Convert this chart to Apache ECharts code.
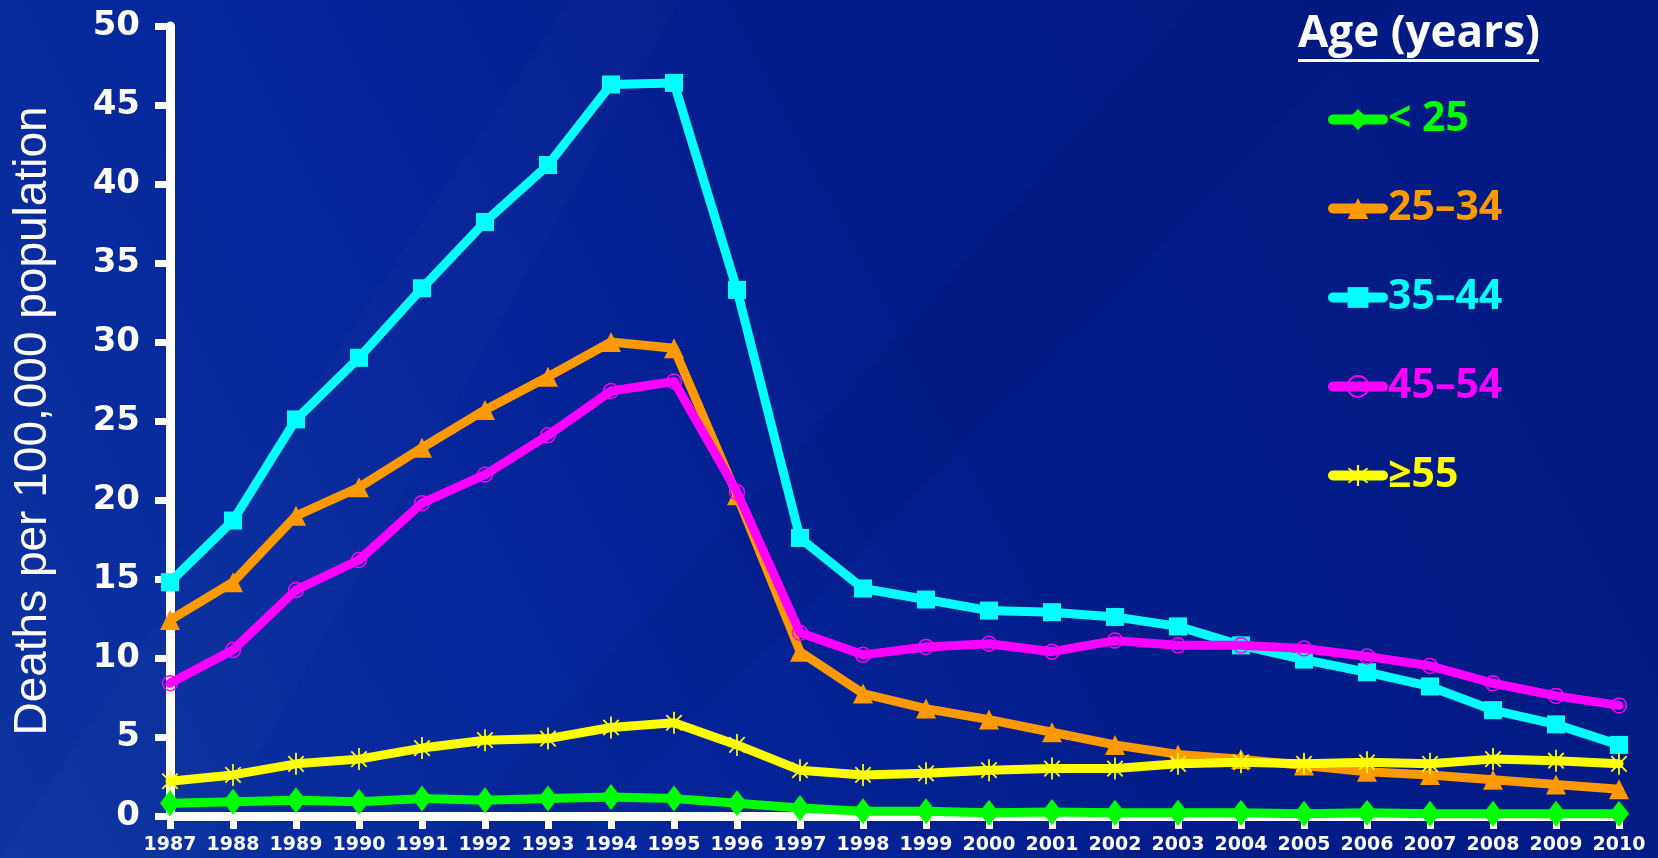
<!DOCTYPE html>
<html>
<head>
<meta charset="utf-8">
<title>Deaths per 100,000 population by age</title>
<script src="https://cdn.jsdelivr.net/npm/echarts@6/dist/echarts.min.js"></script>
<style>
  html, body { margin: 0; padding: 0; background: #021c86; }
  #chart { width: 1658px; height: 858px; }
</style>
</head>
<body>
<div id="chart"></div>
<script>
// Years on the category axis
const years = ['1987','1988','1989','1990','1991','1992','1993','1994','1995','1996','1997','1998',
               '1999','2000','2001','2002','2003','2004','2005','2006','2007','2008','2009','2010'];

// Deaths per 100,000 population, by age group
const ageUnder25 = [0.8, 0.9, 1.0, 0.9, 1.1, 1.0, 1.1, 1.2, 1.1, 0.8, 0.5, 0.3,
                    0.3, 0.2, 0.25, 0.2, 0.2, 0.2, 0.15, 0.2, 0.15, 0.15, 0.15, 0.15];
const age25to34  = [12.4, 14.8, 19.0, 20.8, 23.3, 25.7, 27.8, 30.0, 29.6, 20.3, 10.4, 7.75,
                    6.8, 6.1, 5.3, 4.5, 3.9, 3.6, 3.2, 2.8, 2.6, 2.3, 2.0, 1.7];
const age35to44  = [14.8, 18.7, 25.1, 29.0, 33.4, 37.6, 41.2, 46.3, 46.4, 33.3, 17.6, 14.4,
                    13.7, 13.0, 12.9, 12.6, 12.0, 10.8, 9.9, 9.1, 8.2, 6.7, 5.8, 4.5];
const age45to54  = [8.4, 10.5, 14.3, 16.2, 19.8, 21.6, 24.1, 26.9, 27.5, 20.5, 11.6, 10.2,
                    10.7, 10.9, 10.4, 11.1, 10.8, 10.8, 10.6, 10.1, 9.5, 8.4, 7.6, 7.0];
const age55plus  = [2.2, 2.6, 3.3, 3.6, 4.3, 4.8, 4.9, 5.6, 5.9, 4.5, 2.9, 2.6,
                    2.7, 2.9, 3.0, 3.0, 3.3, 3.4, 3.3, 3.4, 3.3, 3.6, 3.5, 3.3];

// Legend / series names
const groupNames = ['< 25', '25\u201334', '35\u201344', '45\u201354', '\u226555'];
const groupColors = ['#00ff00', '#ff9900', '#00ffff', '#ff00ff', '#ffff00'];

// Six-spoke asterisk marker
const asterisk = 'path://M-0.8,-10 L0.8,-10 L0.8,10 L-0.8,10 Z ' +
  'M-6.43,-7.57 L7.57,6.43 L6.43,7.57 L-7.57,-6.43 Z ' +
  'M6.43,-7.57 L-7.57,6.43 L-6.43,7.57 L7.57,-6.43 Z';

function makeLine(name, data, color, symbol, symbolSize, itemExtra, z) {
  return {
    name: name,
    type: 'line',
    data: data,
    z: z,
    symbol: symbol,
    symbolSize: symbolSize,
    symbolKeepAspect: true,
    showAllSymbol: true,
    lineStyle: { color: color, width: 9, cap: 'round', join: 'round' },
    itemStyle: Object.assign({ color: color }, itemExtra || {}),
    emphasis: { disabled: true },
    animation: false
  };
}

const chart = echarts.init(document.getElementById('chart'), null, { renderer: 'canvas' });

const axisWhite = '#ffffff';

const option = {
  backgroundColor: {
    type: 'linear', x: 0, y: 1, x2: 1, y2: 0,
    colorStops: [
      { offset: 0, color: '#0c33a0' },
      { offset: 0.35, color: '#05249a' },
      { offset: 0.6, color: '#021c88' },
      { offset: 1, color: '#021a82' }
    ]
  },
  graphic: [
    // faint diagonal streaks in the backdrop
    { type: 'polygon', silent: true, z: -10,
      shape: { points: [[0, 858], [200, 858], [680, 0], [570, 0]] },
      style: { fill: 'rgba(255,255,255,0.015)' } },
    { type: 'polygon', silent: true, z: -10,
      shape: { points: [[430, 858], [560, 858], [1400, 0], [1200, 0]] },
      style: { fill: 'rgba(0,0,40,0.05)' } },
    // legend heading
    { type: 'text', left: 1298, top: 12, silent: true,
      style: { text: 'Age (years)', fill: '#ffffff', font: 'bold 44px "Open Sans", "DejaVu Sans", sans-serif' } },
    { type: 'rect', left: 1298, top: 59, silent: true,
      shape: { width: 241, height: 3 }, style: { fill: '#ffffff' } }
  ],
  grid: { left: 170, right: 39, top: 26, bottom: 42, containLabel: false },
  legend: {
    orient: 'vertical',
    left: 1323,
    top: 94,
    itemWidth: 50,
    itemHeight: 26,
    itemGap: 48,
    selectedMode: false,
    lineStyle: { width: 10, cap: 'round' },
    data: groupNames.map((n, i) => ({ name: n, textStyle: { color: groupColors[i] } })),
    textStyle: {
      fontFamily: '"Open Sans", "DejaVu Sans", sans-serif',
      fontWeight: 'bold',
      fontSize: 41,
      lineHeight: 41
    }
  },
  xAxis: {
    type: 'category',
    data: years,
    boundaryGap: false,
    z: 10,
    axisLine: { show: true, onZero: false, lineStyle: { color: axisWhite, width: 9 } },
    axisTick: { show: true, alignWithLabel: true, length: 13, lineStyle: { color: axisWhite, width: 7 } },
    axisLabel: {
      color: '#ffffff', interval: 0, margin: 20,
      fontFamily: '"DejaVu Sans", sans-serif', fontWeight: 'bold', fontSize: 19
    },
    splitLine: { show: false }
  },
  yAxis: {
    type: 'value',
    min: 0, max: 50, interval: 5,
    z: 10,
    name: 'Deaths per 100,000 population',
    nameLocation: 'middle',
    nameGap: 114,
    nameTextStyle: { color: '#ffffff', fontFamily: '"Liberation Sans", Arial, sans-serif', fontSize: 46 },
    axisLine: { show: true, lineStyle: { color: axisWhite, width: 9 } },
    axisTick: { show: true, length: 15, lineStyle: { color: axisWhite, width: 7 } },
    axisLabel: {
      color: '#ffffff', margin: 30,
      fontFamily: '"DejaVu Sans", sans-serif', fontWeight: 'bold', fontSize: 34
    },
    splitLine: { show: false }
  },
  series: [
    makeLine(groupNames[1], age25to34, groupColors[1], 'triangle', 20, null, 12),
    makeLine(groupNames[2], age35to44, groupColors[2], 'rect', 18, null, 13),
    makeLine(groupNames[3], age45to54, groupColors[3], 'circle', 15,
             { color: 'transparent', borderColor: groupColors[3], borderWidth: 1.5 }, 14),
    makeLine(groupNames[4], age55plus, groupColors[4], asterisk, 22, null, 15),
    makeLine(groupNames[0], ageUnder25, groupColors[0], 'diamond', [20, 26], null, 16)
  ]
};

chart.setOption(option);
</script>
</body>
</html>
